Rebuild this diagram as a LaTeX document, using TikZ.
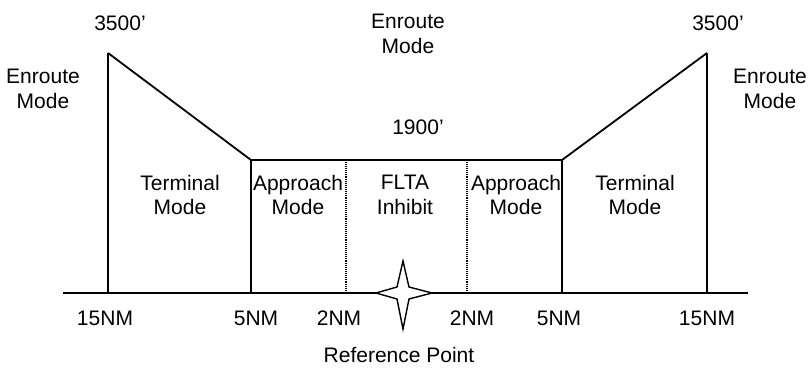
\documentclass[tikz,border=0pt]{standalone}
\usepackage{fontspec}
\setmainfont{Liberation Sans}
\usetikzlibrary{positioning}
\begin{document}
\begin{tikzpicture}[x=1pt,y=-1pt,t/.style={align=center,font=\fontsize{21}{24.5}\selectfont,inner sep=0pt},hl/.style={line width=1.8pt},bl/.style={line width=2.8pt},dl/.style={densely dotted,line width=1.1pt}]
\useasboundingbox (0,0) rectangle (809,367);
\coordinate (l15) at (108,293);\coordinate (l5) at (251,293);\coordinate (l2) at (346,293);
\coordinate (r2) at (467,293);\coordinate (r5) at (562,293);\coordinate (r15) at (707,293);
\coordinate (ltop) at (108,53);\coordinate (rtop) at (707,53);
\coordinate (lbox) at (251,160);\coordinate (rbox) at (562,160);
\coordinate (gstart) at (63,293);\coordinate (gend) at (748,293);
% ground line and profile
\draw[hl] (gstart)--(gend);
\draw[hl] (ltop)--(lbox)--(rbox)--(rtop);
\draw[bl] (l15)--(ltop);\draw[bl] (r15)--(rtop);
\draw[bl] (l5)--(lbox);\draw[bl] (r5)--(rbox);
\draw[dl] (l2)--(l2|-lbox);\draw[dl] (r2)--(r2|-rbox);
% reference point
\coordinate (ref) at (403,293);
\draw[line width=1.4pt,fill=white,line join=miter] (403,261)--(409,287)--(432,293)--(409,299)--(403,329)--(397,299)--(376,293)--(397,287)--cycle;
% labels
\node[t](alt1) at (120,23){3500’};
\node[t](alt2) at (718,23){3500’};
\node[t](alt3) at (418,127){1900’};
\node[t](enl) at (43,89){Enroute\\Mode};
\node[t](enr) at (770,89){Enroute\\Mode};
\node[t](enc) at (408,34){Enroute\\Mode};
\node[t](terml) at (180,195){Terminal\\Mode};
\node[t](appl) at (298,195){Approach\\Mode};
\node[t](flta) at (405,195){FLTA\\Inhibit};
\node[t](appr) at (516,195){Approach\\Mode};
\node[t](termr) at (635,195){Terminal\\Mode};
\node[t](d1) at (105,318){15NM};\node[t](d2) at (256,318){5NM};\node[t](d3) at (339,318){2NM};
\node[t](d4) at (472,318){2NM};\node[t](d5) at (559,318){5NM};\node[t](d6) at (707,318){15NM};
\node[t](refl) at (399,355){Reference Point};
\end{tikzpicture}
\end{document}
